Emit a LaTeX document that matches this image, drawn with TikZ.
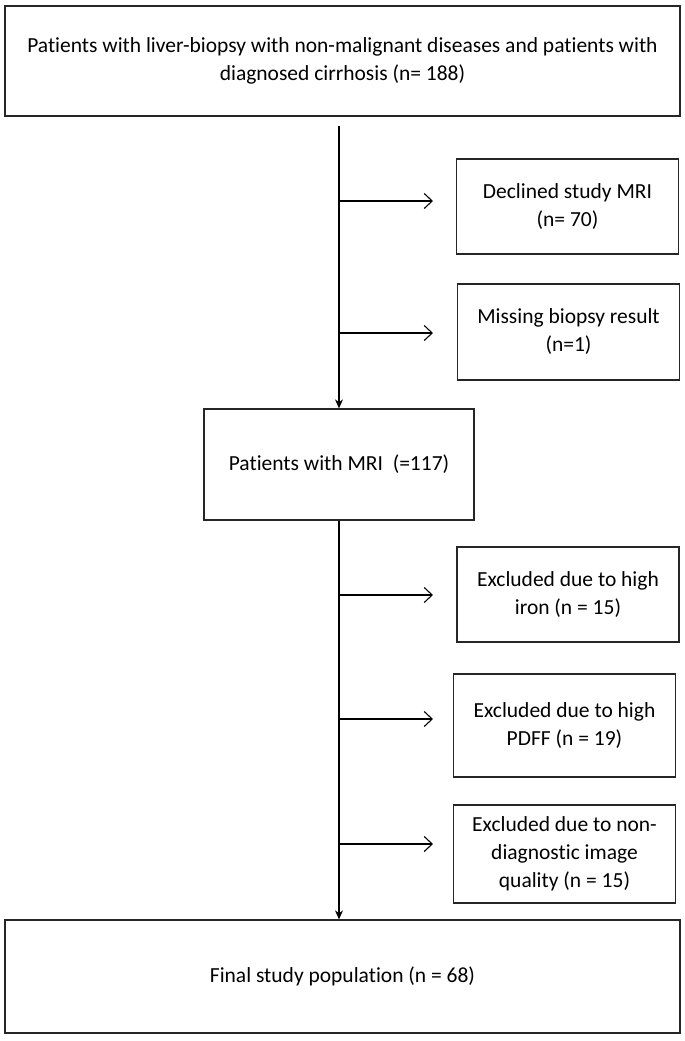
\documentclass[tikz,border=0pt]{standalone}
\usepackage{fontspec}
\setmainfont{Carlito}[Ligatures=NoCommon]
\usepackage{tikz}
\usetikzlibrary{positioning,arrows,arrows.meta,calc}

\begin{document}
\begin{tikzpicture}[x=1bp,y=-1bp,line width=1.1bp,
                    font=\fontsize{21.5bp}{28bp}\selectfont]
  \tikzstyle{flowbox}=[draw=black!85, line width=1.3bp, align=center, inner sep=0pt]
  \tikzstyle{sidebox}=[flowbox, minimum width=222bp]
  \tikzstyle{down}=[-{Stealth[length=9bp,width=8bp]}]
  \tikzstyle{side}=[-{Straight Barb[length=8bp,width=15bp]}]

  \useasboundingbox (0,0) rectangle (685,1041);

  \node[flowbox, minimum width=675bp, minimum height=110bp] (pop)   at (342.5,61)
        {Patients with liver-biopsy with non-malignant diseases and patients with\\
         diagnosed cirrhosis (n= 188)};
  \node[sidebox, minimum height=95bp]  (declined) at (567.5,206.5) {Declined study MRI\\(n= 70)};
  \node[sidebox, minimum height=96bp]  (missing)  at (568.5,332)   {Missing biopsy result\\(n=1)};
  \node[flowbox, minimum width=270bp, minimum height=111bp] (mri) at (339,464.5)
        {Patients with MRI\ \ (=117)};
  \node[sidebox, minimum height=95bp]  (iron)     at (568,594.5)   {Excluded due to high\\iron (n = 15)};
  \node[sidebox, minimum height=103bp] (pdff)     at (564.5,725.5) {Excluded due to high\\PDFF (n = 19)};
  \node[sidebox, minimum height=98bp]  (quality)  at (564.5,854)
        {Excluded due to non-\\diagnostic image\\quality (n = 15)};
  \node[flowbox, minimum width=675bp, minimum height=113bp] (final) at (342.5,976.5)
        {Final study population (n = 68)};

  % trunk
  \coordinate (t0) at (339,126);
  \draw[down] (t0) -- (mri.north);
  \draw[down] (mri.south) -- (final.north -| mri.south);

  % exclusions
  \coordinate (b1) at (339,201); \coordinate (e1) at (433,201);
  \coordinate (b2) at (339,333); \coordinate (e2) at (433,333);
  \coordinate (b3) at (339,595); \coordinate (e3) at (433,595);
  \coordinate (b4) at (339,719); \coordinate (e4) at (433,719);
  \coordinate (b5) at (339,844); \coordinate (e5) at (433,844);
  \foreach \i in {1,...,5}
    \draw[side] (b\i) -- (e\i);
\end{tikzpicture}
\end{document}
